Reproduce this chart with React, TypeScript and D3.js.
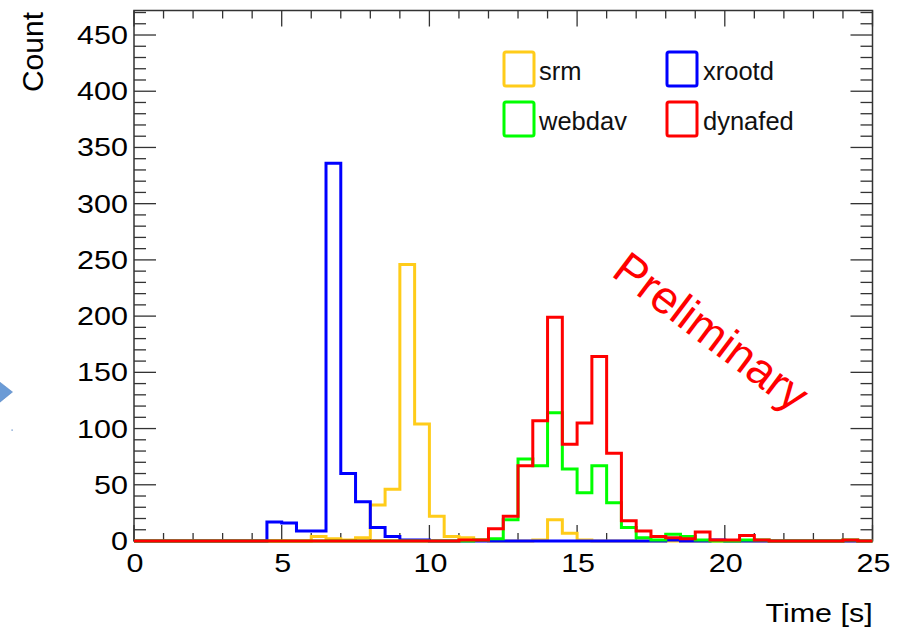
import React from "react";
import * as d3 from "d3";

// bins of 0.5 s from 0 to 25 s
const binEdges = d3.range(0, 25.001, 0.5);

const srm = [
  0, 0, 0, 0, 0, 0, 0, 0, 0, 0,
  0, 0, 4, 2, 1, 3, 32, 46, 246, 104,
  22, 4, 3, 1, 0, 0, 0, 1, 19, 7,
  1, 0, 0, 0, 0, 0, 0, 0, 0, 0,
  0, 0, 0, 0, 0, 0, 0, 0, 0, 0,
];
const xrootd = [
  0, 0, 0, 0, 0, 0, 0, 0, 0, 17,
  16, 9, 9, 336, 60, 35, 12, 4, 1, 1,
  0, 0, 0, 0, 0, 0, 0, 0, 0, 0,
  0, 0, 0, 0, 0, 0, 1, 0, 0, 1,
  0, 0, 0, 0, 0, 0, 0, 0, 0, 0,
];
const webdav = [
  0, 0, 0, 0, 0, 0, 0, 0, 0, 0,
  0, 0, 0, 0, 0, 0, 0, 0, 0, 0,
  0, 0, 0, 1, 2, 19, 73, 67, 114, 64,
  43, 67, 34, 12, 3, 1, 6, 4, 1, 0,
  0, 1, 1, 0, 0, 0, 0, 0, 1, 0,
];
const dynafed = [
  0, 0, 0, 0, 0, 0, 0, 0, 0, 0,
  0, 0, 0, 0, 0, 0, 0, 0, 0, 0,
  0, 0, 1, 1, 11, 22, 67, 107, 199, 86,
  105, 164, 78, 18, 9, 4, 3, 2, 8, 1,
  1, 5, 1, 0, 0, 0, 0, 0, 1, 0,
];

const series = [
  { name: "srm", values: srm, color: "#ffcc1a" },
  { name: "xrootd", values: xrootd, color: "#0000ff" },
  { name: "webdav", values: webdav, color: "#00ff00" },
  { name: "dynafed", values: dynafed, color: "#ff0000" },
];

const xMajor = [0, 5, 10, 15, 20, 25];
const yMajor = [0, 50, 100, 150, 200, 250, 300, 350, 400, 450];

const W = 908;
const H = 633;
const left = 134, right = 872.5, top = 10.5, bottom = 541;

export default function App() {
  const x = d3.scaleLinear().domain([0, 25]).range([left, right]);
  const y = d3.scaleLinear().domain([0, 471.8]).range([bottom, top]);

  const stepLine = d3.line<[number, number]>().x((d) => x(d[0])).y((d) => y(d[1]));
  const histPath = (vals: number[]) => {
    const pts: [number, number][] = [[0, 0]];
    vals.forEach((v, i) => {
      pts.push([binEdges[i], v]);
      pts.push([binEdges[i + 1], v]);
    });
    pts.push([25, 0]);
    return stepLine(pts) as string;
  };

  const xMinor = d3.range(0, 25.001, 1);
  const yMinor = d3.range(0, 471, 10);
  const tickColor = "#333";
  const font = "'Liberation Sans', Arial, Helvetica, sans-serif";

  const legend = [
    { s: series[0], bx: 504, by: 52, tx: 539, ty: 80 },
    { s: series[1], bx: 667, by: 52, tx: 703, ty: 80 },
    { s: series[2], bx: 504, by: 102, tx: 539, ty: 130 },
    { s: series[3], bx: 667, by: 102, tx: 703, ty: 130 },
  ];

  return (
    <svg
      width={W}
      height={H}
      style={{ position: "absolute", left: 0, top: 0, background: "#fff" }}
      fontFamily={font}
    >
      <rect width={W} height={H} fill="#fff" />
      {/* slide leftovers */}
      <polygon points="-6,377.5 12.5,392 -6,407" fill="#6b9bd6" stroke="#4f7fbf" strokeWidth={0.5} />
      <rect x={11.5} y={429.5} width={1.2} height={1.2} fill="#4f7fbf" />

      <defs>
        <clipPath id="frame">
          <rect x={left - 1} y={top} width={right - left + 2} height={bottom - top + 3} />
        </clipPath>
      </defs>

      {/* ticks + frame */}
      <g stroke={tickColor} strokeWidth={1.3}>
        {xMinor.map((v) => {
          const len = v % 5 === 0 ? 16 : 8;
          return (
            <g key={"xt" + v}>
              <line x1={x(v)} x2={x(v)} y1={bottom} y2={bottom - len} />
              <line x1={x(v)} x2={x(v)} y1={top} y2={top + len} />
            </g>
          );
        })}
        {yMinor.map((v) => {
          const len = v % 50 === 0 ? 22 : 12;
          return (
            <g key={"yt" + v}>
              <line x1={left} x2={left + len} y1={y(v)} y2={y(v)} />
              <line x1={right} x2={right - len} y1={y(v)} y2={y(v)} />
            </g>
          );
        })}
      </g>
      <rect x={left} y={top} width={right - left} height={bottom - top} fill="none" stroke={tickColor} strokeWidth={1.5} />

      {/* histograms */}
      <g clipPath="url(#frame)" fill="none" strokeWidth={3}>
        {series.map((s) => (
          <path key={s.name} d={histPath(s.values)} stroke={s.color} strokeLinejoin="miter" />
        ))}
      </g>

      {/* tick labels */}
      <g fontSize={25} fill="#000">
        {yMajor.map((v) => (
          <text key={"yl" + v} textAnchor="end" transform={`translate(128,${y(v) + 9}) scale(1.22,1)`}>
            {v}
          </text>
        ))}
        {xMajor.map((v) => (
          <text key={"xl" + v} textAnchor="middle" transform={`translate(${x(v) + 1},572) scale(1.22,1)`}>
            {v}
          </text>
        ))}
      </g>

      {/* axis titles */}
      <text fontSize={30} fill="#000" textAnchor="end" transform="translate(43,12) rotate(-90)">
        Count
      </text>
      <text fontSize={26.5} fill="#000" textAnchor="end" transform="translate(872.7,622) scale(1.15,1)">
        Time [s]
      </text>

      {/* legend */}
      {legend.map((l) => (
        <g key={l.s.name}>
          <rect x={l.bx} y={l.by} width={30} height={34} rx={2} fill="none" stroke={l.s.color} strokeWidth={3} />
          <text x={l.tx} y={l.ty} fontSize={25.5} fill="#111">
            {l.s.name}
          </text>
        </g>
      ))}

      <text fontSize={46} fill="#ff0000" transform="translate(610,275) rotate(37)">
        Preliminary
      </text>
    </svg>
  );
}
